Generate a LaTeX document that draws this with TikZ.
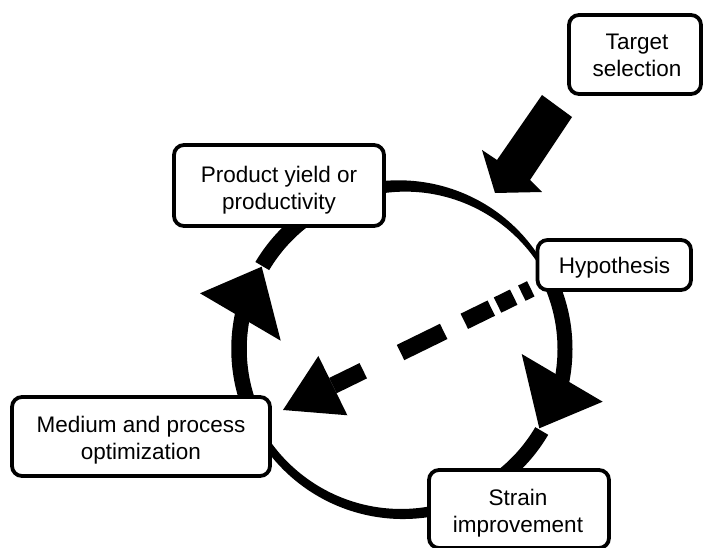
\documentclass[tikz,border=0pt]{standalone}
\usepackage{fontspec}
\setmainfont{Liberation Sans}
\usetikzlibrary{calc}

% Filled band along a circle around the current origin:
% #1 start angle, #2 end angle, #3 radius, #4 width at start, #5 width at end
\newcommand{\ringband}[5]{%
  \fill plot[domain=#1:#2, samples=60, variable=\t]
    ({(#3+0.5*(#4+(#5-#4)*(\t-(#1))/((#2)-(#1))))*cos(\t)},
     {(#3+0.5*(#4+(#5-#4)*(\t-(#1))/((#2)-(#1))))*sin(\t)})
  -- plot[domain=#2:#1, samples=60, variable=\t]
    ({(#3-0.5*(#4+(#5-#4)*(\t-(#1))/((#2)-(#1))))*cos(\t)},
     {(#3-0.5*(#4+(#5-#4)*(\t-(#1))/((#2)-(#1))))*sin(\t)})
  -- cycle;}

\begin{document}
\begin{tikzpicture}[x=1pt,y=-1pt,
  box/.style={draw=black, line width=3.8pt, rounded corners=10pt,
    fill=white, inner sep=0pt},
  boxtext/.style={inner sep=0pt, align=center, anchor=north,
    font=\fontsize{22.5pt}{26.8pt}\selectfont},
  dashshaft/.style={line width=17pt, line cap=butt,
    dash pattern=on 10pt off 9pt on 18pt off 7pt on 30pt off 23pt
                 on 48pt off 41.5pt on 40pt off 5pt}]
\useasboundingbox (0,0) rectangle (704,548);
\clip (0,0) rectangle (704,548);

% the cycle ring
\coordinate (ring) at (402,349);
\begin{scope}[shift={(ring)}]
  \ringband{-100}{-30}{163}{12.5}{4.3}   % product -> hypothesis
  \ringband{-25}{12}{163}{15}{15}        % hypothesis -> arrowhead
  \ringband{30.4}{55}{162}{15}{15}       % arrowhead -> strain
  \ringband{78}{146}{165}{10.5}{8}       % strain -> medium
  \ringband{160}{193}{163}{15.5}{15.5}   % medium -> arrowhead
  \ringband{210.7}{236}{162.5}{16}{16}   % arrowhead -> product
\end{scope}

% arrowheads on the ring
\fill (521.7,354) -- (602.7,401.7) -- (539.3,428.3) -- cycle;
\fill (200,293.3) -- (261.7,266.7) -- (280.7,340.7) -- cycle;

% boxes
\node[box, minimum width=132pt, minimum height=79pt] (target) at (635,54.5) {};
\node[box, minimum width=210pt, minimum height=81pt] (prod) at (279,185.5) {};
\node[box, minimum width=153.5pt, minimum height=50pt] (hyp) at (614.25,265) {};
\node[box, minimum width=258pt, minimum height=79pt] (medium) at (141,436.5) {};
\node[box, minimum width=180pt, minimum height=78pt] (strain) at (519,509) {};

% box texts
\node[boxtext] (target-text) at (637,33.7) {Target\\selection};
\node[boxtext] (prod-text) at (279,165.7) {Product yield or\\productivity};
\node[boxtext] (hyp-text) at (614.5,256.7) {Hypothesis};
\node[boxtext] (medium-text) at (141,415.7) {Medium and process\\optimization};
\node[boxtext] (strain-text) at (518,488.7) {Strain\\improvement};

% block arrow from target selection into the cycle
\fill (542,95) -- (572,117) -- (530,180) -- (542,192) -- (495,193)
  -- (482,150) -- (497,160) -- cycle;

% dashed shortcut from hypothesis to medium and process optimization
\coordinate (dtip) at (283,410);
\coordinate (dtail) at (530.8,288.8);
\coordinate (dbase) at ($(dtip)!55.5pt!(dtail)$);
\draw[dashshaft] (dtail) -- (dbase);
\fill (dtip) -- ($(dbase)!33pt!90:(dtail)$) -- ($(dbase)!33pt!-90:(dtail)$) -- cycle;
\end{tikzpicture}
\end{document}
